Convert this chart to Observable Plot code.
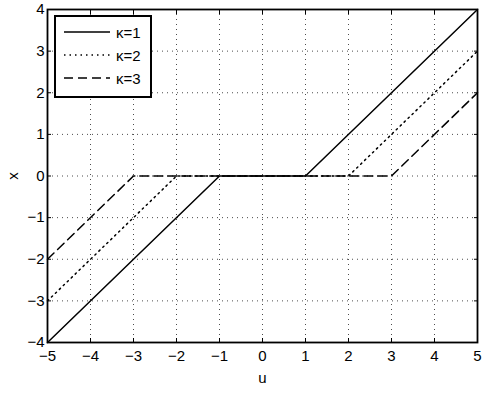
<!DOCTYPE html>
<html>
<head>
<meta charset="utf-8">
<script src="https://cdn.jsdelivr.net/npm/d3@7"></script>
<script src="https://cdn.jsdelivr.net/npm/@observablehq/plot@0.6"></script>
<style>
  body { margin: 0; background: #fff; font-family: "Liberation Sans", Arial, sans-serif; }
  #wrap { position: relative; width: 482px; height: 414px; }
  #legend { position: absolute; left: 54px; top: 15px; width: 94px; height: 79px; border: 2px solid #000; background: #fff; }
  .row { position: absolute; left: 8px; height: 20px; display: flex; align-items: center; font-size: 15px; }
  .row svg { margin-right: 6px; }
</style>
</head>
<body>
<div id="wrap"></div>
<script>
// Data
const kappas = [1, 2, 3];
const u1 = [-5, -1, 1, 5], x1 = [-4, 0, 0, 4];
const u2 = [-5, -2, 2, 5], x2 = [-3, 0, 0, 3];
const u3 = [-5, -3, 3, 5], x3 = [-2, 0, 0, 2];
const uTicks = [-5, -4, -3, -2, -1, 0, 1, 2, 3, 4, 5];
const xTicks = [-4, -3, -2, -1, 0, 1, 2, 3, 4];
const dashes = ["none", "1.5,4", "9,5"];

const seriesU = [u1, u2, u3], seriesX = [x1, x2, x3];
const data = kappas.flatMap((k, i) => seriesU[i].map((u, j) => ({k, u, x: seriesX[i][j]})));

const minus = d => String(d).replace("-", "\u2212");

const font = {fontFamily: "Liberation Sans, Arial, sans-serif", fontSize: 15};
const plot = Plot.plot({
  width: 482,
  height: 396,
  marginLeft: 47,
  marginRight: 5,
  marginTop: 9,
  marginBottom: 54,
  style: {...font, color: "#000", background: "#fff"},
  x: {domain: [-5, 5]},
  y: {domain: [-4, 4]},
  marks: [
    Plot.gridX(uTicks, {stroke: "#000", strokeOpacity: 0.7, strokeDasharray: "1,4"}),
    Plot.gridY(xTicks, {stroke: "#000", strokeOpacity: 0.7, strokeDasharray: "1,4"}),
    ...kappas.map((k, i) => Plot.line(data.filter(d => d.k === k), {
      x: "u", y: "x", stroke: "#000", strokeWidth: 1.5, strokeDasharray: dashes[i]
    })),
    Plot.axisX(uTicks, {anchor: "bottom", tickSize: -4, tickPadding: 12, tickFormat: minus,
      label: "u", labelAnchor: "center", labelArrow: "none", labelOffset: 40, fontSize: 15}),
    Plot.axisX(uTicks, {anchor: "top", tickSize: -4, tickFormat: () => "", label: null}),
    Plot.axisY(xTicks, {anchor: "left", tickSize: -4, tickPadding: 7, tickFormat: minus,
      label: "x", labelAnchor: "center", labelArrow: "none", labelOffset: 40, fontSize: 15}),
    Plot.axisY(xTicks, {anchor: "right", tickSize: -4, tickFormat: () => "", label: null}),
    Plot.frame({stroke: "#000", strokeWidth: 1.8})
  ]
});
const wrap = document.getElementById("wrap");
wrap.appendChild(plot);

// Legend
const legend = document.createElement("div");
legend.id = "legend";
kappas.forEach((k, i) => {
  const row = document.createElement("div");
  row.className = "row";
  row.style.top = (5 + i * 23) + "px";
  row.innerHTML = `<svg width="46" height="4"><line x1="0" y1="2" x2="46" y2="2" stroke="#000" stroke-width="1.5" stroke-dasharray="${dashes[i]}"/></svg><span>\u03ba=${k}</span>`;
  legend.appendChild(row);
});
wrap.appendChild(legend);
</script>
</body>
</html>
